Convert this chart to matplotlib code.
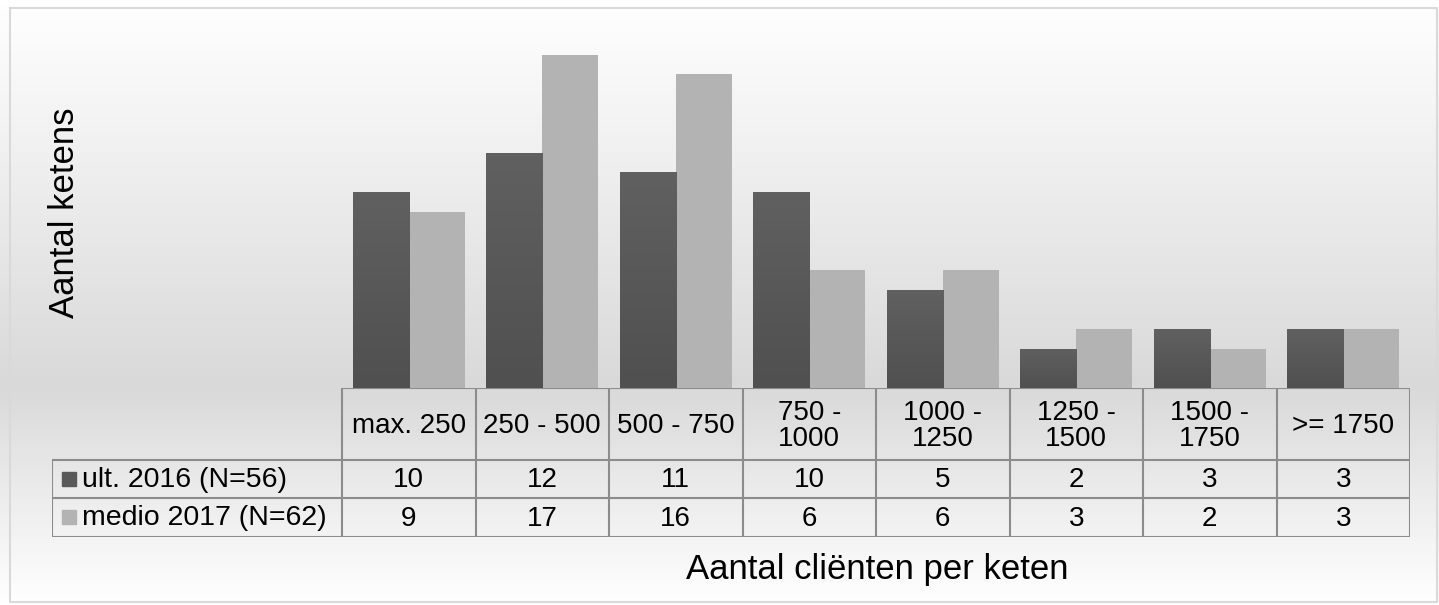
import numpy as np
import matplotlib.pyplot as plt
from matplotlib.colors import LinearSegmentedColormap

# data
categories = ['max. 250', '250 - 500', '500 - 750', '750 -\n1000', '1000 -\n1250',
              '1250 -\n1500', '1500 -\n1750', '>= 1750']
series_names = ['ult. 2016 (N=56)', 'medio 2017 (N=62)']
ult_2016 = [10, 12, 11, 10, 5, 2, 3, 3]
medio_2017 = [9, 17, 16, 6, 6, 3, 2, 3]

dark = '#595959'
light = '#b3b3b3'
grid_col = '#8c8c8c'

plt.rcParams['font.family'] = ['Liberation Sans', 'DejaVu Sans']

W, H = 1439, 605
fig = plt.figure(figsize=(W / 100, H / 100), dpi=100)

def fx(px):
    return px / W

def fy(py):
    return 1 - py / H

# background gradient: white at top, grey around the table header, white at bottom
bg = fig.add_axes([0, 0, 1, 1], zorder=-5)
bg.axis('off')
cmap = LinearSegmentedColormap.from_list('bg', [(0, '#ffffff'), (0.64, '#d9d9d9'), (1.0, '#ffffff')])
grad = np.linspace(0, 1, 300).reshape(-1, 1)
bg.imshow(grad, cmap=cmap, aspect='auto', extent=[0, 1, 0, 1], origin='upper')
bg.set_xlim(0, 1)
bg.set_ylim(0, 1)
# outer border
bg.plot([fx(10), fx(1437), fx(1437), fx(10), fx(10)],
        [fy(8), fy(8), fy(602), fy(602), fy(8)], color='#d9d9d9', lw=1.5)

# bars
ax = fig.add_axes([fx(342), fy(388), fx(1410 - 342), fy(35) - fy(388)])
ax.patch.set_alpha(0)
x = np.arange(len(categories))
w = 0.42
ax.set_xlim(-0.5, len(categories) - 0.5)
ax.set_ylim(0, 18)
bars1 = ax.bar(x - w / 2, ult_2016, width=w, color=dark, zorder=3)
bars2 = ax.bar(x + w / 2, medio_2017, width=w, color=light, zorder=3)
# slight vertical shading on the dark bars
dark_cmap = LinearSegmentedColormap.from_list('dk', ['#505050', '#606060'])
for b in bars1:
    bx = b.get_x()
    im = ax.imshow(np.linspace(0, 1, 50).reshape(-1, 1), cmap=dark_cmap, origin='lower',
                   aspect='auto', extent=[bx, bx + b.get_width(), 0, b.get_height()], zorder=4)
    im.set_clip_path(b)
ax.set_xlim(-0.5, len(categories) - 0.5)
ax.set_ylim(0, 18)
ax.axis('off')

# data table
t = fig.add_axes([fx(52), fy(537), fx(1410 - 52), fy(388) - fy(537)])
t.patch.set_alpha(0)
left = -0.5 - (342 - 52) / ((1410 - 342) / len(categories))
t.set_xlim(left, len(categories) - 0.5)
t.set_ylim(537, 388)
t.axis('off')

lk = dict(color=grid_col, lw=1.5, solid_capstyle='projecting')
t.plot([-0.5, 7.5], [388, 388], **lk)
for yy in [460, 498, 537]:
    t.plot([left, 7.5], [yy, yy], **lk)
t.plot([left, left], [460, 537], **lk)
for i in range(len(categories) + 1):
    t.plot([i - 0.5, i - 0.5], [388, 537], **lk)

fs = 20
for i, c in enumerate(categories):
    t.text(i, 426, c, ha='center', va='center', fontsize=fs, linespacing=0.95)
    t.text(i, 480, str(ult_2016[i]), ha='center', va='center', fontsize=fs)
    t.text(i, 519, str(medio_2017[i]), ha='center', va='center', fontsize=fs)

# legend keys in the table
sq = 14 / ((1410 - 342) / len(categories))
for yy, col, name in [(479, dark, series_names[0]), (517, light, series_names[1])]:
    t.add_patch(plt.Rectangle((left + 10 / 133.5, yy - 7), sq, 14, color=col))
    t.text(left + 30 / 133.5, yy + 1, name, ha='left', va='center', fontsize=20.5)

fig.text(fx(65), fy(213), 'Aantal ketens', rotation=90, ha='center', va='center', fontsize=25)
fig.text(fx(877), fy(570), 'Aantal cliënten per keten', ha='center', va='center', fontsize=25)

fig.savefig('out.png', dpi=100)
